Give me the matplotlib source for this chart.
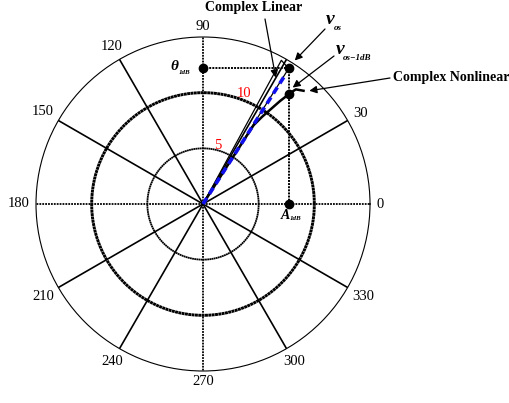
import numpy as np
import matplotlib.pyplot as plt

plt.rcParams['font.family'] = ['Liberation Serif', 'DejaVu Serif']

# angle labels in degrees (60 is left out, the arrows sit there)
angle_ticks = [0, 30, 90, 120, 150, 180, 210, 240, 270, 300, 330]
spoke_angles = list(range(0, 360, 30))
ring_values = [5, 10]
r_max = 15

# operating points (magnitude, phase in degrees)
vos_r, vos_deg = 14.4, 57.7
vos1db_r, vos1db_deg = 12.5, 52.0

# complex nonlinear trajectory up to the -1 dB point
nl_r = [0, 4, 8.4, 9.45, 10.5, 11.55, 12.5]
nl_deg = [57.5, 57.5, 57.3, 55.9, 54.4, 53.2, 52.0]
# short hook beyond the -1 dB point
hook_r = [12.7, 13.25, 13.6]
hook_deg = [51.8, 51.0, 48.4]

# complex linear wedge edge and blue linear gain line
lin_tip_r, lin_tip_deg = 14.7, 61.4
blue_r_end, blue_deg = 13.9, 57.5

W, H = 510, 403


def fpx(x, y):
    # pixel position (top-left origin) -> figure fraction
    return x / W, 1 - y / H


def pol(r, deg):
    return np.deg2rad(deg), r


def straight(x0, y0, x1, y1, n=60):
    xs = np.linspace(x0, x1, n)
    ys = np.linspace(y0, y1, n)
    return np.arctan2(ys, xs), np.hypot(xs, ys)


fig = plt.figure(figsize=(W / 100, H / 100), dpi=100)
cx, cy, rad = 203, 204, 167
ax = fig.add_axes([(cx - rad) / W, (H - cy - rad) / H, 2 * rad / W, 2 * rad / H],
                  projection='polar')
ax.set_ylim(0, r_max)
ax.grid(False)
ax.set_xticks([])
ax.set_yticks([])
ax.spines['polar'].set_linewidth(0.8)

dots = (0, (1, 0.6))
# spokes
for a in spoke_angles:
    t = np.deg2rad(a)
    if a % 90 == 0:
        ax.plot([t, t], [0, r_max], color='k', lw=1.3, ls=dots, zorder=1)
    else:
        ax.plot([t, t], [0, r_max], color='k', lw=1.2, zorder=1)

# rings
tt = np.linspace(0, 2 * np.pi, 400)
ax.plot(tt, np.full_like(tt, ring_values[0]), color='k', lw=1.3, ls=(0, (1, 0.2)), zorder=1)
ax.plot(tt, np.full_like(tt, ring_values[1]), color='k', lw=2.1, ls=(0, (1, 0.15)), zorder=1)

# ring labels
ax.text(*pol(5.45, 75.5), '5', color='red', fontsize=10.5, ha='center', va='center')
ax.text(*pol(10.6, 69.7), '10', color='red', fontsize=10.5, ha='center', va='center')

# angle labels, centred a fixed gap outside the rim
px_per_unit = rad / r_max
for a in angle_ticks:
    s = str(a)
    w_px, h_px = 7.3 * len(s), 9.0
    t = np.deg2rad(a)
    off = 6 + abs(np.cos(t)) * w_px / 2 + abs(np.sin(t)) * h_px / 2
    ax.text(t, r_max + off / px_per_unit, s, fontsize=10.5, ha='center', va='center',
            clip_on=False)

# projections of v_os onto the axes
vx = vos_r * np.cos(np.deg2rad(vos_deg))
vy = vos_r * np.sin(np.deg2rad(vos_deg))
ax.plot(*straight(0, vy, vx, vy), color='k', lw=1.4, ls=dots, zorder=2)
ax.plot(*straight(vx, vy, vx, 0), color='k', lw=1.4, ls=dots, zorder=2)

# complex linear wedge
wedge_t = np.deg2rad([0, lin_tip_deg, vos_deg, 0])
wedge_r = [0, lin_tip_r, vos_r, 0]
ax.plot(wedge_t, wedge_r, color='k', lw=0.9, zorder=3)
ax.plot(np.deg2rad([blue_deg, blue_deg]), [0, blue_r_end], color='#1010ee', lw=2.6,
        ls=(0, (2, 1.3)), zorder=4)

# complex nonlinear curve
ax.plot(np.deg2rad(nl_deg), nl_r, color='k', lw=1.8, zorder=3)
ax.plot(np.deg2rad(hook_deg), hook_r, color='k', lw=1.8, zorder=3, clip_on=False)

# points
pts_t = np.deg2rad([vos_deg, vos1db_deg, 90, 0])
pts_r = [vos_r, vos1db_r, vy, vx]
ax.plot(pts_t, pts_r, 'o', color='k', ms=6, zorder=5, clip_on=False)

# arrows
arrow = dict(arrowstyle='-|>', color='k', lw=0.9, shrinkA=0, shrinkB=0, mutation_scale=11)
for tip, start in [((13.1, 60.1), (265, 19)),
                   ((15.3, 57.4), (325, 29)),
                   ((13.2, 52.4), (334, 56)),
                   ((13.95, 46.8), (390, 78))]:
    ax.annotate('', xy=pol(*tip), xytext=fpx(*start), textcoords='figure fraction',
                arrowprops=arrow, annotation_clip=False)

# labels
fig.text(*fpx(253.5, 8), 'Complex Linear', fontsize=10, fontweight='bold',
         ha='center', va='center')
fig.text(*fpx(451, 77), 'Complex Nonlinear', fontsize=10, fontweight='bold',
         ha='center', va='center')
fig.text(*fpx(330, 19), 'v', fontsize=14, fontweight='bold', style='italic',
         ha='center', va='center')
fig.text(*fpx(334, 28), 'os', fontsize=6.5, fontweight='bold', style='italic',
         ha='left', va='center')
fig.text(*fpx(340, 49), 'v', fontsize=14, fontweight='bold', style='italic',
         ha='center', va='center')
fig.text(*fpx(343, 58), 'os\u22121dB', fontsize=6.5, fontweight='bold', style='italic',
         ha='left', va='center')
fig.text(*fpx(174, 67), '\u03b8', fontsize=11, fontweight='bold', style='italic',
         ha='center', va='center')
fig.text(*fpx(179, 72), '1dB', fontsize=5, fontweight='bold', style='italic',
         ha='left', va='center')
fig.text(*fpx(285, 215), 'A', fontsize=10, fontweight='bold', style='italic',
         ha='center', va='center')
fig.text(*fpx(289.5, 219), '1dB', fontsize=5, fontweight='bold', style='italic',
         ha='left', va='center')

fig.savefig('out.png', dpi=100)
